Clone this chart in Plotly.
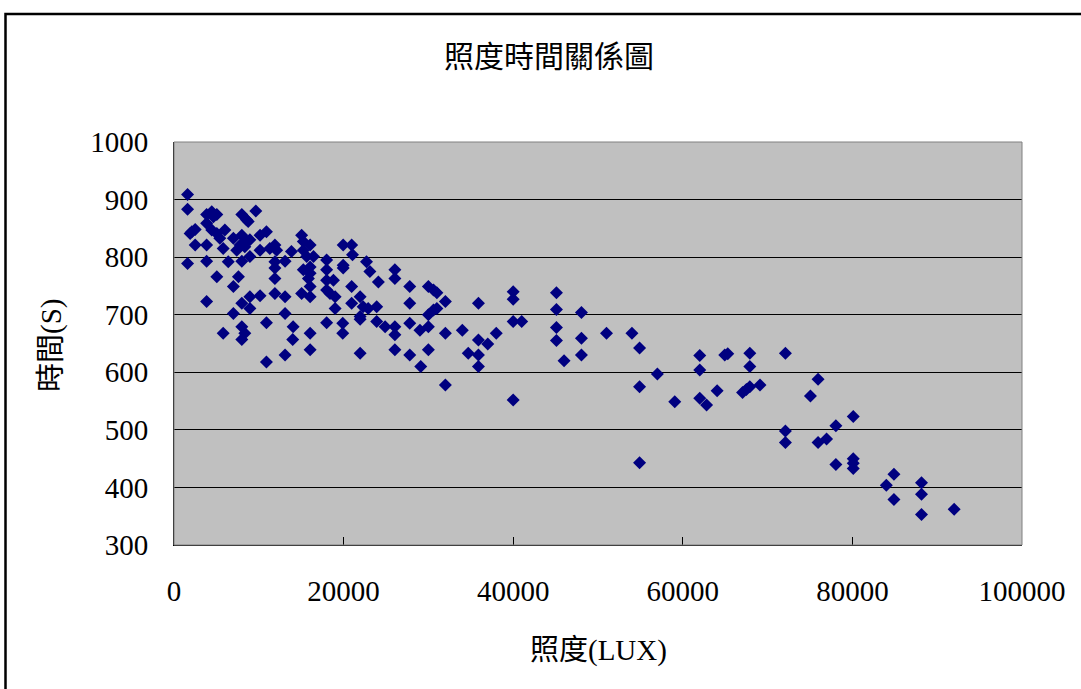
import plotly.graph_objects as go

# 照度 (LUX) and 時間 (S) values
illuminance = [
    1600, 1600, 3850, 4450, 5050, 4650, 8000, 9650, 8550, 8750,
    2100, 2500, 1900, 3850, 4450, 5050, 6000, 5400,
    7000, 8000, 8550, 8950, 10150, 10900, 7800,
    2500, 3850, 5800, 7400, 8350, 10150, 11300, 11900, 12100,
    15050, 15250, 16050, 15250, 15650, 16450, 13850,
    19950, 20950, 21050,
    1600, 3850, 6400, 8000, 8950,
    11900, 13100, 11900,
    15250, 16050, 16050,
    18000, 18000, 19950, 19950, 22700,
    5050, 7600, 11900, 7000,
    15850, 16050, 18000, 18800, 18000, 20950,
    3850, 8000, 8950, 8950, 10150, 11900, 13100,
    15050, 16050, 18400, 19000, 19000, 20950, 21950, 22300, 22900,
    7000, 13100, 10900, 8000, 8350, 8000, 5800,
    18000, 19900, 19900, 21950, 21950,
    14050, 14000, 16050, 16050,
    13100, 10900, 21950,
    23100, 24100, 26050, 26050, 27800, 27800, 30000, 30600, 31000, 32000,
    30000, 30600, 31000, 23900, 23900, 24900, 26050, 26050, 27800, 29000,
    30000, 32000, 34000, 26050, 27800, 30000, 29100, 34700, 32000,
    35900, 40000, 40000, 40000, 41000, 38000, 35900, 37000, 35900, 35900,
    40000, 45100, 45100, 48050, 45100, 45100, 48050, 46000, 48050,
    51000, 54000, 54900, 57000, 54900, 59050, 54900, 62000, 62000, 64950,
    65300, 67900, 67900, 62000, 62800, 64050, 67050, 67500, 67900, 69100,
    72100, 72100, 72100,
    75950, 75050, 80100, 78050, 75950, 76950, 78050, 80100, 80100, 80100,
    84900, 84000, 84900, 88150, 88150, 88150, 92000,
]
time_s = [
    909, 883, 874, 879, 874, 870, 874, 880, 865, 862,
    844, 848, 841, 859, 847, 841, 847, 833,
    833, 838, 827, 830, 838, 844, 821,
    821, 821, 815, 812, 818, 812, 815, 821, 812,
    838, 827, 821, 812, 801, 801, 810,
    821, 821, 804,
    789, 793, 792, 793, 801,
    792, 793, 781,
    778, 783, 772,
    795, 778, 781, 786, 792,
    766, 766, 763, 749,
    763, 749, 760, 760, 743, 749,
    723, 720, 711, 731, 733, 737, 731,
    737, 731, 737, 731, 711, 720, 731, 714, 711,
    702, 702, 686, 679, 668, 657, 668,
    686, 685, 668, 697, 692,
    679, 657, 668, 639,
    630, 618, 633,
    775, 757, 778, 763, 749, 720, 749, 743, 738, 723,
    700, 708, 711, 714, 688, 679, 679, 665, 685, 673,
    679, 668, 673, 639, 630, 639, 610, 633, 578,
    720, 740, 727, 688, 688, 668, 656, 649, 630, 610,
    552, 738, 709, 704, 678, 655, 659, 620, 630,
    668, 668, 642, 597, 575, 549, 443, 629, 604, 630,
    632, 633, 610, 555, 543, 568, 565, 570, 575, 578,
    633, 498, 478,
    588, 559, 523, 507, 478, 484, 440, 450, 442, 433,
    423, 404, 379, 408, 388, 353, 362,
]

x_ticks = [0, 20000, 40000, 60000, 80000, 100000]
y_ticks = [300, 400, 500, 600, 700, 800, 900, 1000]

FONT = "Liberation Serif, 'Noto Sans CJK TC', serif"

fig = go.Figure()
fig.add_trace(go.Scatter(
    x=illuminance, y=time_s, mode="markers",
    marker=dict(symbol="diamond", size=10, color="#000080", line=dict(width=0)),
    showlegend=False, hoverinfo="x+y",
))

W, H = 1081, 689
L, R, T, B = 174, 1022, 142, 545
pw, ph = R - L, B - T

def px(xp):
    return (xp - L) / pw

def py(yp):
    return (B - yp) / ph

fig.update_layout(
    width=W, height=H,
    margin=dict(l=L, r=W - R, t=T, b=H - B, pad=0),
    paper_bgcolor="white",
    plot_bgcolor="#C0C0C0",
    font=dict(family=FONT, size=29, color="black"),
    xaxis=dict(
        range=[0, 100000], tickvals=x_ticks, ticktext=[str(v) for v in x_ticks],
        showgrid=False, zeroline=False,
        showline=True, linecolor="black", linewidth=1,
        ticks="inside", ticklen=8, tickcolor="black", tickwidth=1,
        ticklabelstandoff=20,
        tickfont=dict(family=FONT, size=29),
    ),
    yaxis=dict(
        range=[300, 1000], tickvals=y_ticks, ticktext=[str(v) for v in y_ticks],
        showgrid=True, gridcolor="black", gridwidth=1,
        zeroline=False,
        showline=True, linecolor="black", linewidth=1,
        ticks="inside", ticklen=8, tickcolor="black", tickwidth=1,
        ticklabelstandoff=19,
        tickfont=dict(family=FONT, size=29),
    ),
    shapes=[
        dict(type="rect", xref="paper", yref="paper", x0=0, x1=1, y0=0, y1=1,
             line=dict(color="#808080", width=1), layer="above"),
        dict(type="rect", xref="paper", yref="paper",
             x0=px(5.5), x1=px(1090), y0=py(698), y1=py(14),
             line=dict(color="black", width=2.5), layer="above"),
    ],
    annotations=[
        dict(text="照度時間關係圖", xref="paper", yref="paper",
             x=px(548.5), y=py(57), showarrow=False,
             xanchor="center", yanchor="middle",
             font=dict(family=FONT, size=30)),
        dict(text="時間(S)", xref="paper", yref="paper",
             x=px(51), y=py(345), showarrow=False, textangle=-90,
             xanchor="center", yanchor="middle",
             font=dict(family=FONT, size=29)),
        dict(text="照度(LUX)", xref="paper", yref="paper",
             x=px(598), y=py(650), showarrow=False,
             xanchor="center", yanchor="middle",
             font=dict(family=FONT, size=29)),
    ],
)

fig.write_html("out.html")
